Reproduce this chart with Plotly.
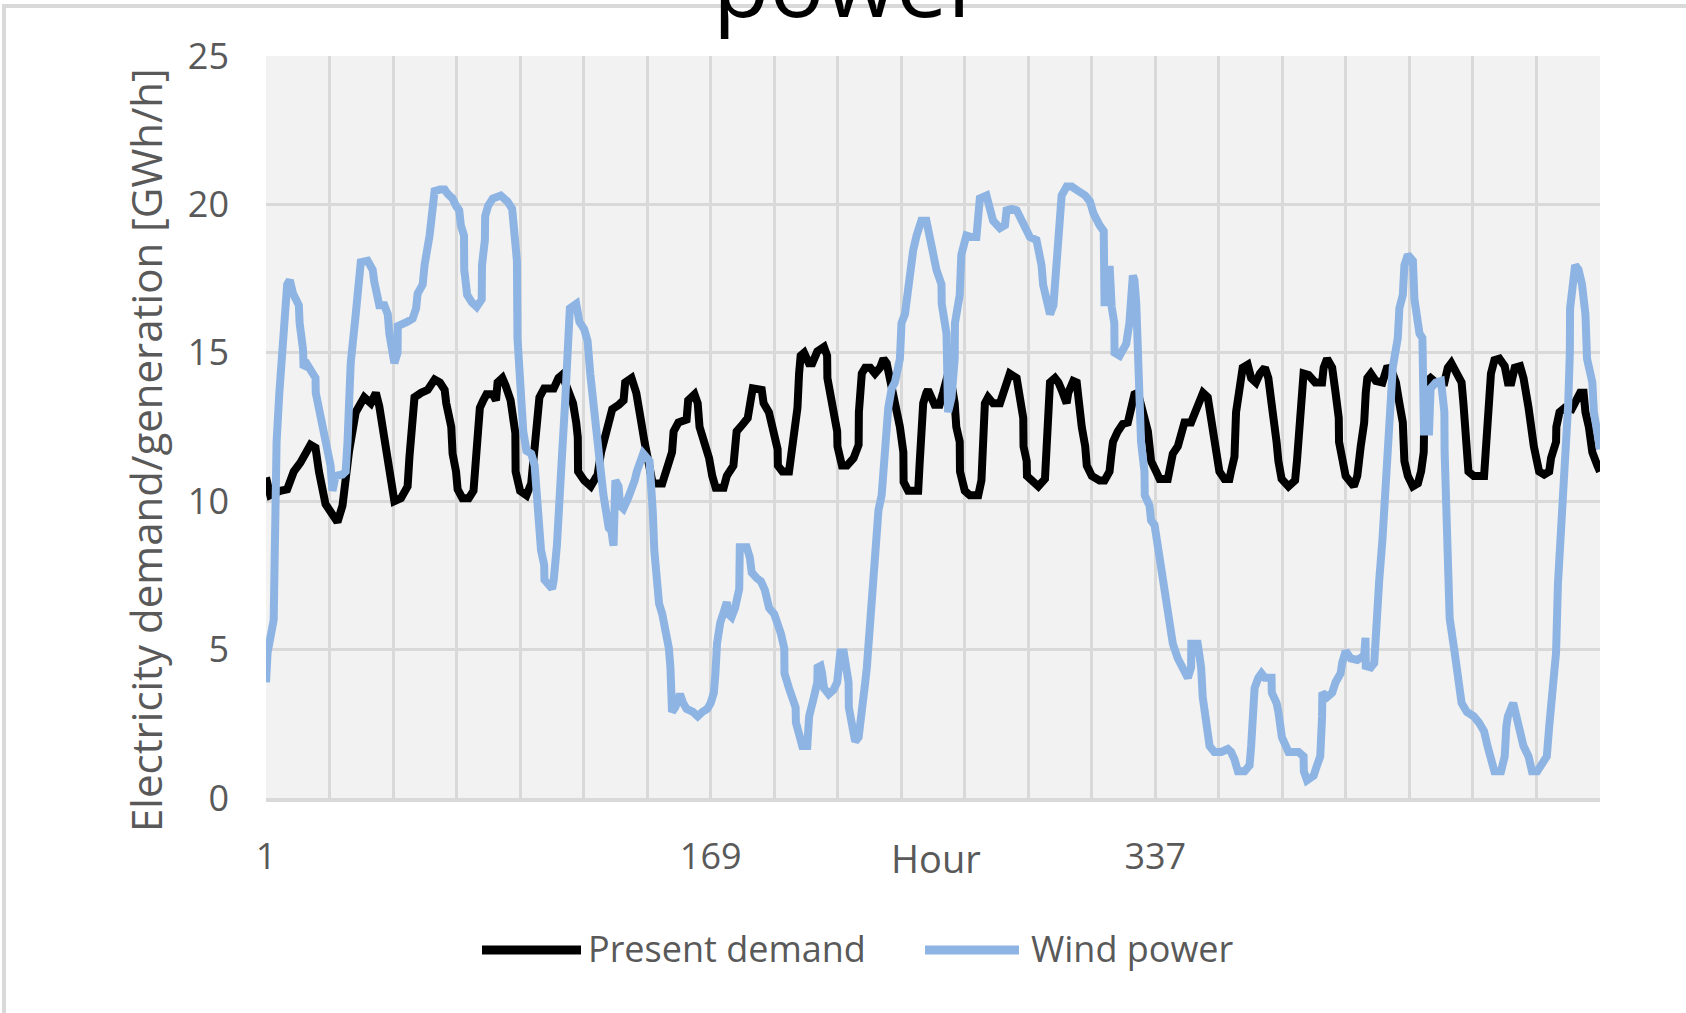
from plotly import graph_objects as go

# Hourly values (vertices of the two lines)
demand_hours = [
    1, 2.6, 6.4, 9.0, 11.5, 14.0, 17.8, 19.7, 21.0, 23.5, 28.0, 29.9, 32.4, 34.9, 38.1, 40.6, 42.5, 43.8,
    46.3, 47.6, 49.5, 52.0, 54.5, 55.2, 56.4, 57.1, 59.6, 62.1, 64.7, 66.7, 68.5, 69.1, 71.0, 71.5, 72.8,
    73.4, 75.2, 77.6, 79.4, 80.0, 81.0, 81.8, 83.1, 84.3, 86.7, 87.9, 88.5, 90.3, 91.5, 93.4, 95.2, 95.3,
    97.0, 99.4, 101.2, 102.5, 104.3, 106.1, 109.7, 111.5, 112.8, 114.0, 115.2, 117.0, 118.2, 118.8, 118.9,
    121.2, 123.7, 126.3, 127.6, 129.4, 131.2, 131.8, 134.3, 136.1, 136.7, 139.1, 140.9, 142.2, 142.8,
    144.0, 145.2, 145.9, 147.1, 150.7, 152.6, 154.4, 155.0, 156.8, 159.9, 160.5, 162.9, 164.1, 164.8,
    166.6, 168.4, 169.6, 170.9, 173.9, 175.1, 177.6, 178.2, 178.8, 181.2, 183.0, 184.3, 184.9, 188.3,
    189.0, 191.0, 192.5, 194.3, 194.4, 196.1, 198.6, 199.3, 200.5, 201.8, 202.4, 203.0, 204.3, 206.1,
    207.4, 209.3, 211.8, 213.0, 213.1, 214.9, 216.8, 216.9, 218.6, 220.5, 223.0, 224.9, 225.0, 226.1,
    227.4, 229.3, 231.1, 233.0, 234.3, 235.5, 236.8, 238.6, 240.5, 241.8, 241.9, 243.6, 247.4, 248.0,
    249.3, 250.5, 251.1, 253.6, 255.5, 256.8, 258.1, 258.7, 259.9, 261.2, 261.8, 263.1, 263.2, 265.0,
    266.9, 270.1, 271.3, 271.9, 272.6, 273.8, 275.7, 278.3, 279.5, 280.8, 282.0, 284.6, 285.8, 287.1,
    287.2, 288.4, 288.5, 290.9, 292.8, 295.3, 296.0, 296.6, 297.2, 299.1, 300.4, 301.6, 303.5, 304.1,
    306.0, 307.3, 307.9, 309.2, 310.5, 311.1, 313.0, 315.9, 317.8, 319.7, 320.3, 321.0, 322.8, 324.7,
    326.6, 327.9, 329.1, 330.4, 331.6, 332.9, 334.2, 334.8, 335.4, 337.3, 338.6, 341.7, 343.0, 343.6,
    345.5, 346.8, 348.0, 350.5, 351.8, 353.7, 355.0, 356.8, 357.5, 358.7, 359.3, 360.6, 361.2, 363.1,
    365.0, 365.6, 366.9, 367.5, 368.8, 370.0, 371.9, 373.2, 375.0, 376.5, 378.4, 379.7, 380.9, 382.2,
    382.8, 383.5, 384.7, 387.3, 389.8, 390.5, 391.1, 392.4, 393.0, 394.9, 397.4, 400.0, 400.6, 401.9,
    403.8, 405.1, 406.3, 406.4, 408.2, 408.9, 412.0, 413.3, 414.6, 415.9, 416.5, 417.1, 418.4, 420.3,
    422.8, 423.5, 424.7, 426.7, 427.9, 429.2, 430.5, 431.1, 432.4, 434.3, 436.2, 437.4, 438.4, 438.6,
    439.1, 441.0, 443.0, 446.2, 447.5, 448.8, 450.8, 452.7, 453.4, 454.0, 454.7, 455.3, 457.3, 461.2,
    461.8, 463.1, 463.8, 465.1, 467.0, 469.0, 470.2, 471.5, 472.8, 474.8, 476.1, 478.0, 478.7, 480.0,
    482.0, 483.9, 485.8, 486.5, 488.4, 488.5, 489.7, 491.7, 494.3, 495.6, 497.5, 498.8, 499.5, 500.8,
    502.1, 504.0, 505.0,
]
demand_values = [
    10.8, 10.2, 10.35, 10.4, 11.0, 11.3, 11.9, 11.8, 11.0, 9.9, 9.3, 9.85, 11.7, 13.0, 13.5, 13.3, 13.65, 13.2,
    11.8, 10.85, 10.0, 10.1, 10.5, 11.5, 13.0, 13.5, 13.65, 13.75, 14.1, 14.0, 13.75, 13.3, 12.5, 11.6, 11.0,
    10.4, 10.1, 10.1, 10.35, 11.35, 12.0, 13.15, 13.4, 13.6, 13.6, 13.4, 14.0, 14.15, 13.9, 13.4, 12.3, 11.0,
    10.35, 10.2, 10.6, 11.85, 13.5, 13.8, 13.8, 14.15, 14.25, 14.0, 13.65, 13.3, 12.65, 12.15, 11.0,
    10.7, 10.5, 10.9, 11.65, 12.3, 12.75, 13.1, 13.25, 13.4, 14.0, 14.15, 13.65, 13.15, 12.65,
    12.0, 11.35, 10.85, 10.6, 10.6, 11.1, 11.65, 12.35, 12.65, 12.75, 13.4, 13.6, 13.3, 12.5,
    12.0, 11.45, 10.85, 10.45, 10.45, 10.85, 11.2, 11.65, 12.35, 12.6, 12.8, 13.5, 13.8, 13.75,
    13.3, 13.0, 12.35, 11.75, 11.2, 11.0, 11.0, 11.5, 12.0, 13.15, 14.3, 14.9, 15.0, 14.65,
    14.65, 15.05, 15.2, 14.9, 14.15, 13.3, 12.35, 11.85, 11.2, 11.2, 11.45, 11.9, 13.0, 14.3,
    14.5, 14.5, 14.3, 14.5, 14.8, 14.65, 14.15, 13.5, 12.5, 11.65, 10.65, 10.35, 10.35, 11.35,
    13.3, 13.65, 13.75, 13.25, 13.25, 13.65, 14.15, 14.3, 14.0, 13.3, 12.5, 12.0, 11.0, 10.35,
    10.2, 10.2, 10.7, 11.9, 13.3, 13.5, 13.3, 13.3, 13.65, 14.15, 14.3, 14.15, 13.5, 12.8,
    11.85, 11.35, 10.85, 10.7, 10.5, 10.75, 11.85, 12.65, 14.0, 14.15, 14.0, 13.75, 13.3, 13.65,
    14.05, 14.0, 13.3, 12.5, 11.85, 11.2, 10.85, 10.7, 10.7, 11.0, 11.5, 12.0, 12.35, 12.6,
    12.65, 13.15, 13.6, 13.65, 13.3, 12.85, 12.35, 11.85, 11.35, 11.0, 10.75, 10.75, 11.2, 11.6,
    11.85, 12.35, 12.65, 12.65, 13.0, 13.5, 13.65, 13.5, 13.15, 12.5, 12.0, 11.35, 11.0, 10.75,
    10.75, 11.0, 11.5, 13.0, 14.0, 14.5, 14.6, 14.15, 14.0, 14.3, 14.5, 14.15, 13.3, 12.65,
    12.0, 11.35, 10.75, 10.5, 10.7, 11.35, 12.35, 13.65, 14.3, 14.25, 14.0, 14.0, 14.5, 14.8,
    14.5, 13.65, 12.8, 12.0, 11.35, 10.85, 10.5, 10.85, 11.85, 12.65, 13.65, 14.15, 14.3, 14.05,
    14.0, 14.3, 14.55, 14.3, 14.0, 13.3, 12.65, 11.35, 10.85, 10.5, 10.6, 11.0, 11.65, 12.8,
    14.0, 14.15, 14.0, 14.0, 14.5, 14.65, 14.3, 14.0, 13.3, 12.35, 11.85, 11.0, 10.85, 10.85,
    11.65, 13.0, 14.3, 14.75, 14.8, 14.55, 14.0, 14.0, 14.5, 14.55, 14.15, 13.15, 12.5, 11.85,
    11.0, 10.9, 11.0, 11.45, 12.0, 12.5, 13.0, 13.15, 13.1, 13.3, 13.65, 13.65, 13.0, 12.5,
    11.65, 11.2, 11.0,
]

wind_hours = [
    1.0, 1.6, 3.9, 4.5, 5.0, 6.0, 7.5, 7.8, 9.0, 10.0, 11.2, 13.4, 13.7, 15.0, 15.2, 16.6, 17.8, 19.7,
    19.8, 21.6, 23.5, 25.4, 26.1, 27.3, 29.9, 31.1, 31.8, 32.4, 33.0, 34.9, 36.2, 36.8, 39.4, 41.3, 41.9,
    42.5, 43.8, 45.7, 47.0, 47.6, 48.2, 49.5, 50.7, 50.8, 54.5, 56.4, 57.7, 58.3, 60.2, 60.9, 62.8, 64.0,
    64.7, 66.7, 68.5, 69.7, 71.5, 72.8, 74.0, 74.6, 75.8, 75.9, 77.0, 78.8, 80.6, 82.5, 82.6, 83.7, 83.8,
    84.9, 86.7, 89.7, 92.2, 94.0, 94.6, 95.8, 96.0, 97.0, 98.2, 99.4, 101.2, 102.5, 103.7, 104.3, 104.9,
    106.1, 106.2, 109.1, 109.7, 110.9, 111.5, 112.8, 114.0, 115.2, 115.8, 118.2, 119.4, 121.2, 122.5,
    123.5, 124.5, 125.5, 126.5, 127.5, 128.5, 129.5, 130.5, 131.5, 132.3, 133.0, 134.2, 134.8, 136.0,
    137.8, 139.0, 140.3, 141.1, 141.7, 143.5, 145.9, 146.5, 147.1, 147.7, 148.9, 149.5, 150.7, 151.9,
    153.2, 153.8, 153.9, 154.4, 155.6, 157.4, 158.6, 159.9, 162.3, 164.1, 165.9, 167.7, 169.0, 170.2,
    170.8, 171.4, 172.6, 173.9, 175.1, 175.7, 176.9, 178.2, 179.8, 180.0, 182.6, 183.8, 184.5, 186.5,
    188.0, 189.5, 190.5, 191.1, 193.0, 194.3, 195.5, 196.8, 196.9, 198.6, 201.1, 201.2, 202.4, 203.6,
    205.5, 206.1, 206.2, 208.0, 209.3, 209.4, 210.5, 211.1, 211.8, 213.6, 215.5, 216.8, 218.0, 219.3,
    221.1, 221.2, 222.4, 223.6, 224.9, 226.1, 226.8, 227.4, 228.0, 228.6, 229.9, 231.1, 232.4, 233.6,
    234.3, 234.9, 236.1, 237.4, 238.6, 240.5, 241.1, 242.4, 243.0, 244.3, 245.5, 246.8, 247.4, 248.6,
    250.5, 251.5, 253.0, 254.3, 256.2, 256.3, 258.1, 258.2, 258.7, 260.0, 261.2, 261.3, 263.1, 263.7,
    265.6, 267.5, 269.4, 270.1, 270.7, 273.2, 274.5, 275.7, 278.3, 280.2, 280.8, 282.7, 284.6, 286.5,
    287.7, 289.6, 292.1, 293.4, 294.0, 294.6, 295.9, 297.2, 298.5, 299.7, 301.0, 301.6, 303.5, 305.4,
    307.9, 310.5, 312.3, 313.6, 315.9, 317.5, 317.8, 318.5, 319.2, 319.8, 320.5, 321.5, 321.6, 323.5,
    326.0, 327.2, 328.5, 329.1, 329.8, 330.4, 331.0, 331.6, 332.9, 333.0, 334.8, 335.4, 336.7, 337.9,
    339.2, 339.8, 341.7, 342.4, 343.0, 343.6, 345.5, 347.4, 349.3, 350.5, 350.6, 353.0, 354.3, 354.9,
    356.2, 356.8, 357.5, 359.3, 361.9, 364.4, 365.6, 366.9, 368.2, 370.7, 372.6, 373.2, 373.8, 374.5,
    375.9, 377.1, 378.4, 380.9, 381.0, 382.8, 383.5, 384.7, 384.8, 387.3, 391.1, 393.0, 393.1, 394.3,
    396.8, 398.1, 399.3, 400.0, 400.1, 401.9, 403.8, 405.1, 407.0, 407.6, 408.2, 408.9, 410.8, 413.3,
    415.9, 416.4, 416.5, 418.4, 419.7, 420.3, 421.6, 422.8, 423.5, 424.1, 424.2, 425.4, 426.0, 426.7,
    428.6, 429.2, 430.5, 431.1, 432.4, 434.3, 434.9, 436.2, 436.8, 437.9, 438.4, 438.5, 440.4, 441.0,
    443.0, 444.9, 445.6, 446.2, 446.3, 446.9, 447.5, 448.2, 450.1, 451.4, 452.7, 454.7, 457.3, 459.2,
    461.2, 462.5, 463.8, 465.1, 467.6, 469.0, 469.6, 470.2, 472.2, 473.5, 475.4, 476.1, 478.0, 479.3,
    481.3, 482.6, 484.9, 485.8, 486.5, 487.1, 488.4, 489.1, 490.4, 491.7, 493.0, 493.6, 493.7, 495.6,
    496.9, 498.2, 499.5, 500.1, 502.1, 502.7, 504.0, 505.0,
]
wind_values = [
    3.9, 4.9, 6.0, 9.4, 12.0, 13.6, 15.6, 16.6, 17.3, 17.45, 17.0, 16.6, 16.0, 15.1, 14.5, 14.6, 14.4, 14.15,
    13.65, 12.8, 12.1, 11.2, 10.35, 10.85, 10.9, 11.0, 12.0, 14.15, 14.65, 16.3, 17.5, 18.05, 18.1, 17.8, 17.4,
    17.1, 16.6, 16.6, 16.3, 15.65, 15.15, 14.65, 15.0, 15.9, 16.05, 16.15, 16.5, 17.0, 17.3, 17.95, 18.95, 19.95,
    20.45, 20.5, 20.5, 20.35, 20.2, 19.95, 19.8, 19.3, 18.95, 17.8, 16.95, 16.7, 16.55, 16.8, 17.95, 18.8, 19.6,
    19.95, 20.2, 20.3, 20.1, 19.85, 18.95, 18.1, 15.5, 14.0, 12.35, 11.7, 11.6, 11.2, 10.0, 8.85, 8.35,
    7.85, 7.35, 7.05, 7.35, 8.5, 9.85, 11.5, 13.3, 15.0, 16.5, 16.65, 16.05, 15.8, 15.4,
    14.3, 13.3, 12.5, 11.6, 11.0, 10.2, 9.5, 9.1, 9.0, 8.5, 10.7, 10.5, 9.85, 9.75,
    10.1, 10.35, 10.7, 11.0, 11.2, 11.6, 11.35, 10.7, 9.7, 8.35, 7.35, 6.55, 6.2, 5.7,
    5.05, 4.4, 3.55, 2.9, 3.05, 3.5, 3.2, 3.0, 2.9, 2.75, 2.9, 3.0, 3.2, 3.55,
    4.2, 5.2, 5.9, 6.4, 6.6, 6.2, 6.1, 6.4, 7.05, 8.45, 8.45, 8.1, 7.6, 7.4,
    7.3, 7.0, 6.7, 6.4, 6.2, 5.9, 5.55, 5.05, 4.2, 3.7, 3.05, 2.55, 2.05, 1.75,
    1.75, 2.2, 2.75, 3.4, 3.9, 4.4, 4.45, 4.2, 3.7, 3.5, 3.65, 3.9, 4.9, 4.9,
    3.9, 3.05, 2.4, 1.9, 2.05, 2.75, 3.4, 3.9, 4.4, 5.2, 6.55, 8.2, 9.7, 10.2,
    11.0, 12.35, 13.15, 13.8, 14.0, 14.8, 16.0, 16.3, 16.8, 17.95, 18.45, 18.95, 19.2, 19.45,
    19.45, 18.95, 18.3, 17.8, 17.3, 16.65, 15.65, 14.8, 13.0, 13.5, 14.8, 16.0, 16.95, 18.3,
    18.95, 18.9, 18.9, 19.6, 20.2, 20.3, 19.85, 19.45, 19.2, 19.3, 19.8, 19.85, 19.8, 19.45,
    19.1, 18.9, 18.8, 18.3, 17.95, 17.3, 16.8, 16.3, 16.6, 18.1, 19.6, 20.3, 20.6, 20.6,
    20.45, 20.3, 20.1, 19.7, 19.3, 19.1, 16.7, 16.7, 17.8, 17.8, 16.55, 16.0, 15.0, 14.9,
    15.3, 16.0, 17.6, 17.45, 16.65, 15.3, 14.0, 12.0, 11.0, 10.2, 9.85, 9.35, 9.2, 8.5,
    8.0, 7.5, 6.7, 6.2, 5.7, 5.2, 4.7, 4.4, 4.05, 4.4, 5.2, 5.2, 4.4, 3.4,
    2.75, 2.25, 1.75, 1.55, 1.55, 1.65, 1.55, 1.3, 0.9, 0.9, 1.1, 1.75, 2.55, 3.7,
    4.05, 4.2, 4.05, 4.05, 3.55, 3.2, 2.9, 2.4, 2.05, 1.55, 1.55, 1.4, 0.9, 0.6,
    0.75, 1.1, 1.4, 2.75, 3.55, 3.4, 3.55, 3.9, 4.2, 4.55, 4.7, 4.95, 4.7, 4.65,
    4.8, 5.4, 4.45, 4.4, 4.55, 5.9, 7.35, 8.7, 9.85, 10.2, 11.35, 12.5, 13.65, 14.5,
    15.5, 16.5, 16.95, 17.95, 18.3, 18.1, 16.8, 16.15, 15.65, 15.5, 14.0, 12.35, 12.35, 13.8,
    14.0, 14.05, 13.5, 13.0, 11.65, 9.5, 7.35, 6.05, 4.9, 4.05, 3.2, 2.9, 2.75, 2.55,
    2.25, 1.75, 1.4, 0.9, 0.9, 1.4, 2.4, 2.75, 3.2, 2.75, 2.25, 1.75, 1.4, 0.9,
    0.9, 1.1, 1.4, 2.4, 3.05, 4.05, 4.9, 7.2, 9.0, 11.0, 13.3, 15.0, 16.5, 17.95,
    17.8, 17.3, 16.3, 14.8, 14.0, 13.0, 12.0, 11.75,
]

series_names = ["Present demand", "Wind power"]
series_colors = ["#000000", "#8EB4E3"]

grid_hours = list(range(1, 506, 24))
x_labels = {1: "1", 169: "169", 337: "337"}
y_ticks = [0, 5, 10, 15, 20, 25]

# figure geometry in pixels
W, H = 1686, 1013
L, R, T, B = 266, 86, 56, 215
pw, ph = W - L - R, H - T - B


def px_x(x):
    return (x - L) / pw


def px_y(y):
    return 1 - (y - T) / ph


font = "Open Sans"
grey_txt = "#595959"
grid = "#D9D9D9"

fig = go.Figure()
fig.add_trace(go.Scatter(
    x=demand_hours, y=demand_values, mode="lines", name=series_names[0],
    line=dict(color=series_colors[0], width=8),
))
fig.add_trace(go.Scatter(
    x=wind_hours, y=wind_values, mode="lines", name=series_names[1],
    line=dict(color=series_colors[1], width=8),
))

fig.update_xaxes(
    range=[1, 505],
    tickmode="array",
    tickvals=grid_hours,
    ticktext=[x_labels.get(h, "") for h in grid_hours],
    showgrid=True, gridcolor=grid, gridwidth=3,
    zeroline=False,
    showline=True, linecolor=grid, linewidth=4,
    ticks="", ticklabelstandoff=24,
    tickfont=dict(family=font, size=36, color=grey_txt),
)
fig.update_yaxes(
    range=[0, 25],
    tickvals=y_ticks,
    showgrid=True, gridcolor=grid, gridwidth=3,
    zeroline=False,
    ticks="", ticklabelstandoff=36,
    tickfont=dict(family=font, size=36, color=grey_txt),
)

annotations = [
    dict(text="power", x=px_x(849), y=px_y(46), xanchor="center", yanchor="bottom",
         font=dict(family=font, size=92, color="#000000")),
    dict(text="Electricity demand/generation [GWh/h]", x=px_x(145), y=px_y(450), textangle=-90,
         xanchor="center", yanchor="middle", font=dict(family=font, size=42, color=grey_txt)),
    dict(text="Hour", x=px_x(936), y=px_y(858), xanchor="center", yanchor="middle",
         font=dict(family=font, size=38, color=grey_txt)),
    dict(text=series_names[0], x=px_x(586), y=px_y(948), xanchor="left", yanchor="middle",
         font=dict(family=font, size=36, color=grey_txt)),
    dict(text=series_names[1], x=px_x(1029), y=px_y(948), xanchor="left", yanchor="middle",
         font=dict(family=font, size=36, color=grey_txt)),
]
for a in annotations:
    a.update(xref="paper", yref="paper", showarrow=False)

shapes = [
    # chart area border (cut by the picture edges)
    dict(type="rect", x0=px_x(4), x1=px_x(1700), y0=px_y(6), y1=px_y(1030),
         line=dict(color=grid, width=4), fillcolor="rgba(0,0,0,0)", layer="below"),
    # legend keys
    dict(type="line", x0=px_x(482), x1=px_x(581), y0=px_y(950), y1=px_y(950),
         line=dict(color=series_colors[0], width=9)),
    dict(type="line", x0=px_x(925), x1=px_x(1019), y0=px_y(950), y1=px_y(950),
         line=dict(color=series_colors[1], width=9)),
]
for s in shapes:
    s.update(xref="paper", yref="paper")

fig.update_layout(
    width=W, height=H,
    margin=dict(l=L, r=R, t=T, b=B),
    paper_bgcolor="white",
    plot_bgcolor="#F2F2F2",
    showlegend=False,
    annotations=annotations,
    shapes=shapes,
)

# page body has an 8px default margin; drop it so the figure sits at the corner
fig.write_html(
    "out.html",
    config={"displayModeBar": False},
    post_script="document.body.style.margin='0px';",
)
